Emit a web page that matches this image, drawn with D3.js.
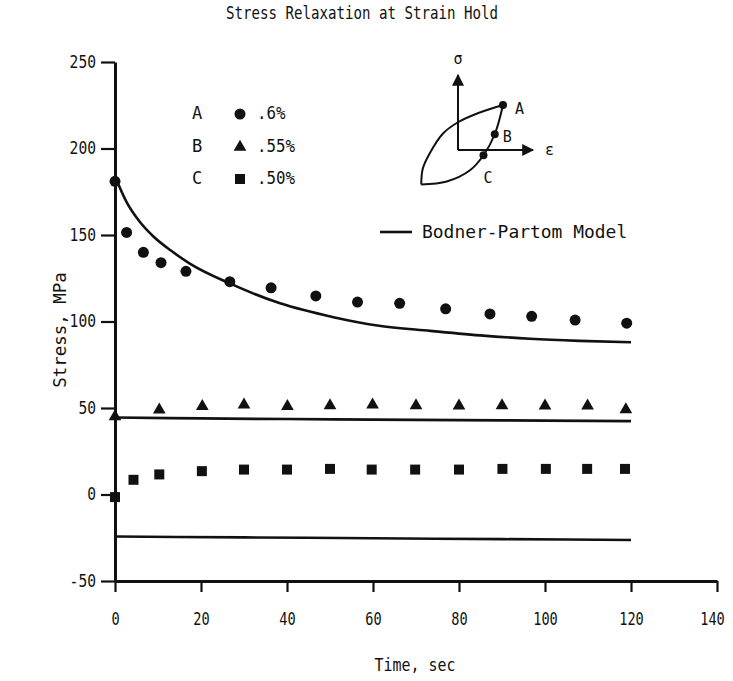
<!DOCTYPE html>
<html>
<head>
<meta charset="utf-8">
<script src="https://cdn.jsdelivr.net/npm/d3@7"></script>
<style>
  html, body { margin: 0; padding: 0; background: #fff; }
  svg { display: block; }
  text { font-family: "DejaVu Sans Mono", "Liberation Mono", monospace; fill: #111; }
</style>
</head>
<body>
<svg id="chart" width="733" height="681"></svg>
<script>
// ---------- data ----------
const xTicks = [0, 20, 40, 60, 80, 100, 120, 140];
const yTicks = [-50, 0, 50, 100, 150, 200, 250];

// Series A (.6%) – circles
const timeA = [0, 2.7, 6.6, 10.7, 16.5, 26.7, 36.3, 46.7, 56.4, 66.2, 76.9, 87.2, 96.9, 107, 119];
const stressA = [181, 151.5, 140, 134, 129, 123, 119.5, 114.8, 111.2, 110.5, 107.3, 104.4, 103, 100.8, 99];

// Series B (.55%) – triangles
const timeB = [0, 10.3, 20.3, 30, 40.1, 50, 59.9, 70, 80, 90, 100, 109.9, 118.8];
const stressB = [45, 49, 51, 51.8, 50.9, 51.4, 51.8, 51.4, 51.3, 51.4, 51.3, 51.3, 49.1];

// Series C (.50%) – squares
const timeC = [0, 4.3, 10.3, 20.2, 30, 40, 50, 59.7, 69.8, 80, 90.1, 100.2, 109.8, 118.6];
const stressC = [-1.5, 8.5, 11.6, 13.5, 14.4, 14.4, 14.8, 14.4, 14.4, 14.4, 14.8, 14.8, 14.8, 14.8];

// Bodner-Partom model curves
const modelTimeA = [0, 2.7, 5.8, 9, 13, 17.4, 26.7, 38.4, 50.8, 61, 73.3, 84.9, 96.5, 108, 120];
const modelStressA = [184, 169, 157.5, 149, 141, 133.5, 122, 110.5, 102.5, 97.7, 94.6, 92, 90, 88.8, 88];
const modelTimeB = [0, 20, 40, 60, 80, 100, 120];
const modelStressB = [44.5, 44, 43.6, 43.3, 43, 42.7, 42.4];
const modelTimeC = [0, 30, 60, 90, 120];
const modelStressC = [-24.3, -24.8, -25.3, -25.8, -26.3];

// Legend
const legendLetters = ["A", "B", "C"];
const legendLabels = [".6%", ".55%", ".50%"];

// Inset hysteresis sketch (normalised strain / stress units)
const loopUpperEps = [-0.49, -0.47, -0.38, -0.2, 0.0, 0.29, 0.6];
const loopUpperSig = [-0.46, -0.25, -0.05, 0.22, 0.37, 0.5, 0.6];
const loopLowerEps = [-0.49, -0.15, 0.16, 0.34, 0.49, 0.6];
const loopLowerSig = [-0.46, -0.42, -0.27, -0.07, 0.21, 0.6];
const insetPointEps = [0.6, 0.49, 0.34];
const insetPointSig = [0.6, 0.21, -0.07];

// ---------- drawing ----------
const svg = d3.select("#chart");
const x = d3.scaleLinear().domain([0, 140]).range([115, 717]);
const y = d3.scaleLinear().domain([-50, 250]).range([581, 62]);

// condensed look: fix the text advance per character
function squeeze(sel, perChar) {
  sel.each(function () {
    const n = this.textContent.length;
    d3.select(this).attr("textLength", n * perChar).attr("lengthAdjust", "spacingAndGlyphs");
  });
  return sel;
}

// title
squeeze(svg.append("text").attr("x", 362).attr("y", 19).attr("text-anchor", "middle")
  .style("font-size", "17px").text("Stress Relaxation at Strain Hold"), 8.5);

// axes
const fmt = d => String(d); // plain hyphen minus
const xAxis = svg.append("g").attr("transform", `translate(0,${y(-50)})`)
  .call(d3.axisBottom(x).tickValues(xTicks).tickSize(11).tickSizeOuter(0).tickPadding(21).tickFormat(fmt));
const yAxis = svg.append("g").attr("transform", `translate(${x(0)},0)`)
  .call(d3.axisLeft(y).tickValues(yTicks).tickSize(14).tickSizeOuter(0).tickPadding(5).tickFormat(fmt));
[xAxis, yAxis].forEach(g => {
  g.select(".domain").attr("stroke", "#111").attr("stroke-width", 3);
  g.selectAll(".tick line").attr("stroke", "#111").attr("stroke-width", 2.2);
  g.selectAll(".tick text").style("font-size", "17px").attr("fill", "#111")
    .style("font-family", '"DejaVu Sans Mono", monospace');
});
squeeze(xAxis.selectAll(".tick text"), 8.2);
xAxis.selectAll(".tick text").filter(d => d === 140).attr("dx", -5);
squeeze(yAxis.selectAll(".tick text"), 8.8);

// axis titles
squeeze(svg.append("text").attr("transform", "translate(66,330) rotate(-90)")
  .attr("text-anchor", "middle").style("font-size", "17px").text("Stress, MPa"), 10.5);
squeeze(svg.append("text").attr("x", 415).attr("y", 671).attr("text-anchor", "middle")
  .style("font-size", "17px").text("Time, sec"), 9);

// model lines
const line = d3.line().x(d => x(d[0])).y(d => y(d[1])).curve(d3.curveMonotoneX);
[[modelTimeA, modelStressA], [modelTimeB, modelStressB], [modelTimeC, modelStressC]].forEach(([t, s]) => {
  svg.append("path").datum(t.map((v, i) => [v, s[i]]))
    .attr("d", line).attr("fill", "none").attr("stroke", "#111").attr("stroke-width", 2.6);
});

// markers
const sym = {
  circle: d3.symbol().type(d3.symbolCircle).size(95),
  triangle: d3.symbol().type(d3.symbolTriangle).size(70),
  square: d3.symbol().type(d3.symbolSquare).size(100)
};
function drawSeries(t, s, shape) {
  svg.append("g").selectAll("path").data(t.map((v, i) => [v, s[i]])).join("path")
    .attr("transform", d => `translate(${x(d[0])},${y(d[1])})`)
    .attr("d", sym[shape]()).attr("fill", "#111");
}
drawSeries(timeA, stressA, "circle");
drawSeries(timeB, stressB, "triangle");
drawSeries(timeC, stressC, "square");

// legend (markers)
const legendShapes = ["circle", "triangle", "square"];
const legendY = [113, 146, 178];
legendLetters.forEach((l, i) => {
  svg.append("text").attr("x", 197).attr("y", legendY[i]).attr("dy", "0.36em")
    .attr("text-anchor", "middle").style("font-size", "17px").text(l);
  svg.append("path").attr("transform", `translate(240,${legendY[i] + 1})`)
    .attr("d", sym[legendShapes[i]]()).attr("fill", "#111");
  squeeze(svg.append("text").attr("x", 257).attr("y", legendY[i]).attr("dy", "0.36em")
    .style("font-size", "17px").text(legendLabels[i]), 9.5);
});

// legend (model)
svg.append("line").attr("x1", 380).attr("x2", 412).attr("y1", 232).attr("y2", 232)
  .attr("stroke", "#111").attr("stroke-width", 2.6);
squeeze(svg.append("text").attr("x", 422).attr("y", 232).attr("dy", "0.36em")
  .style("font-size", "17px").text("Bodner-Partom Model"), 10.8);

// inset sketch
const ix = d3.scaleLinear().domain([0, 1]).range([458, 533]);
const iy = d3.scaleLinear().domain([0, 1]).range([150, 75]);
const inset = svg.append("g");
const defs = svg.append("defs");
defs.append("marker").attr("id", "arrow").attr("viewBox", "0 0 10 10")
  .attr("refX", 9).attr("refY", 5).attr("markerWidth", 18).attr("markerHeight", 12)
  .attr("markerUnits", "userSpaceOnUse").attr("orient", "auto")
  .append("path").attr("d", "M0,0 L10,5 L0,10 Z").attr("fill", "#111");
inset.append("line").attr("x1", ix(0)).attr("y1", iy(0)).attr("x2", ix(0)).attr("y2", iy(1))
  .attr("stroke", "#111").attr("stroke-width", 2).attr("marker-end", "url(#arrow)");
inset.append("line").attr("x1", ix(0)).attr("y1", iy(0)).attr("x2", ix(1)).attr("y2", iy(0))
  .attr("stroke", "#111").attr("stroke-width", 2).attr("marker-end", "url(#arrow)");
const iline = d3.line().x(d => ix(d[0])).y(d => iy(d[1])).curve(d3.curveCatmullRom);
inset.append("path").datum(loopUpperEps.map((v, i) => [v, loopUpperSig[i]]))
  .attr("d", iline).attr("fill", "none").attr("stroke", "#111").attr("stroke-width", 2);
inset.append("path").datum(loopLowerEps.map((v, i) => [v, loopLowerSig[i]]))
  .attr("d", iline).attr("fill", "none").attr("stroke", "#111").attr("stroke-width", 2);
inset.selectAll("circle").data(insetPointEps.map((v, i) => [v, insetPointSig[i]])).join("circle")
  .attr("cx", d => ix(d[0])).attr("cy", d => iy(d[1])).attr("r", 4).attr("fill", "#111");
inset.append("text").attr("x", ix(0)).attr("y", 64).attr("text-anchor", "middle")
  .style("font-size", "15px").text("σ");
inset.append("text").attr("x", 545).attr("y", iy(0)).attr("dy", "0.36em")
  .style("font-size", "15px").text("ε");
const insetLabelDx = [12, 8, 0];
const insetLabelDy = [4, 2, 22];
legendLetters.forEach((l, i) => {
  inset.append("text").attr("x", ix(insetPointEps[i]) + insetLabelDx[i])
    .attr("y", iy(insetPointSig[i]) + insetLabelDy[i]).attr("dy", "0.36em")
    .style("font-size", "15px").text(l);
});
</script>
</body>
</html>
